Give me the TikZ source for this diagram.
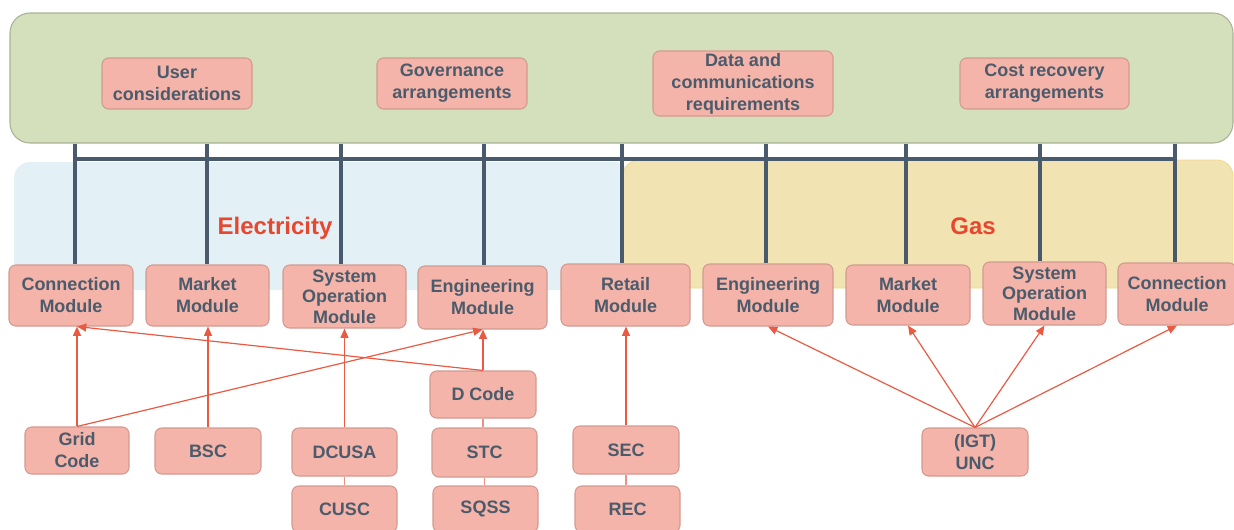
\documentclass[tikz,border=0pt]{standalone}
\usepackage{fontspec}
\setmainfont{Liberation Sans}
\usetikzlibrary{arrows.meta,fit}

\definecolor{panelfill}{HTML}{D4DFBB}
\definecolor{panelline}{HTML}{A9B295}
\definecolor{elecfill}{HTML}{E3F1F6}
\definecolor{gasfill}{HTML}{F2E3B2}
\definecolor{gasline}{HTML}{F0D88C}
\definecolor{boxfill}{HTML}{F5B4A9}
\definecolor{boxline}{HTML}{D39A90}
\definecolor{ink}{HTML}{4A5B6C}
\definecolor{busc}{HTML}{485A6C}
\definecolor{arrc}{HTML}{EA5A43}
\definecolor{linkc}{HTML}{F08E80}
\definecolor{heading}{HTML}{E8472F}

\begin{document}
\begin{tikzpicture}[x=0.75pt,y=-0.75pt,
  box/.style={draw=boxline, fill=boxfill, line width=0.8pt, rounded corners=5pt,
    inner sep=0pt, align=center, text=ink,
    font=\bfseries\fontsize{13.5}{16.5}\selectfont},
  wh/.style 2 args={minimum width={#1*0.75pt}, minimum height={#2*0.75pt}},
  tight/.style={font=\bfseries\fontsize{13.5}{15.5}\selectfont},
  bus/.style={draw=busc, line width=3pt},
  arr/.style={draw=arrc, line width=0.9pt, -{Triangle[length=7pt,width=6pt]}},
  link/.style={draw=linkc, line width=0.8pt},
  sector/.style={text=heading, font=\bfseries\fontsize{18}{20}\selectfont}]
\useasboundingbox (0,0) rectangle (1234,529);

% sector bands
\node[fit={(14,162) (630,290)}, inner sep=0pt, fill=elecfill, rounded corners=12pt] (elec) {};
\node[fit={(623,160) (1233,288)}, inner sep=0pt, fill=gasfill, draw=gasline, line width=0.6pt, rounded corners=12pt] (gas) {};

% top panel
\node[fit={(10,13) (1233,143)}, inner sep=0pt, fill=panelfill, draw=panelline, line width=0.8pt, rounded corners=15pt] (panel) {};

\node[box, wh={150}{51}] (user) at (177,83.5) {User\\considerations};
\node[box, wh={150}{51}] (gov) at (452,83.5) {Governance\\arrangements};
\node[box, wh={180}{65}] (data) at (743,83.5) {Data and\\communications\\requirements};
\node[box, wh={169}{51}] (cost) at (1044.5,83.5) {Cost recovery\\arrangements};

% sector headings
\node[sector] (eleclabel) at (275,228) {Electricity};
\node[sector] (gaslabel) at (973,226) {Gas};

% modules
\node[box, wh={124}{61}] (econn) at (71,295.5) {Connection\\Module};
\node[box, wh={123}{61}] (emkt) at (207.5,295.5) {Market\\Module};
\node[box, tight, wh={123}{63}] (esys) at (344.5,296.5) {System\\Operation\\Module};
\node[box, wh={129}{63}] (eeng) at (482.5,297.5) {Engineering\\Module};
\node[box, wh={129}{62}] (retail) at (625.5,295) {Retail\\Module};
\node[box, wh={130}{62}] (geng) at (768,295) {Engineering\\Module};
\node[box, wh={124}{60}] (gmkt) at (908,295) {Market\\Module};
\node[box, tight, wh={123}{63}] (gsys) at (1044.5,293.5) {System\\Operation\\Module};
\node[box, wh={118}{62}] (gconn) at (1177,294) {Connection\\Module};

% bus from the panel to every module
\coordinate (busL) at (75,159);
\coordinate (busR) at (1175,159);
\draw[bus] (busL) -- (busR);
\foreach \x/\m in {75/econn,207/emkt,341/esys,484/eeng,622/retail,766/geng,906/gmkt,1040/gsys,1175/gconn}
  \draw[bus] (panel.south -| \x,0) -- (\m.north -| \x,0);

% codes
\node[box, wh={104}{47}] (grid) at (77,450.5) {Grid\\Code};
\node[box, wh={106}{46}] (bsc) at (208,451) {BSC};
\node[box, wh={105}{48}] (dcusa) at (344.5,452) {DCUSA};
\node[box, wh={105}{46}] (cusc) at (344.5,509) {CUSC};
\node[box, wh={106}{47}] (dcode) at (483,394.5) {D Code};
\node[box, wh={105}{49}] (stc) at (484.5,452.5) {STC};
\node[box, wh={105}{46}] (sqss) at (485.5,509) {SQSS};
\node[box, wh={106}{48}] (sec) at (626,450) {SEC};
\node[box, wh={105}{46}] (rec) at (627.5,509) {REC};
\node[box, wh={106}{48}] (unc) at (975,452) {(IGT)\\UNC};

% stacked codes
\draw[link] (dcusa.south) -- (dcusa.south |- cusc.north);
\draw[link] (dcode.south) -- (dcode.south |- stc.north);
\draw[link] (stc.south) -- (stc.south |- sqss.north);
\draw[link] (sec.south) -- (sec.south |- rec.north);

% code to module relations
\draw[arr] (grid.north) -- (grid.north |- econn.south);
\draw[arr] (grid.north) -- (eeng.south);
\draw[arr] (dcode.north) -- (grid.north |- econn.south);
\draw[arr] (dcode.north) -- (dcode.north |- eeng.south);
\draw[arr] (bsc.north) -- (bsc.north |- emkt.south);
\draw[arr] (dcusa.north) -- (dcusa.north |- esys.south);
\draw[arr] (sec.north) -- (sec.north |- retail.south);
\draw[arr] (unc.north) -- (geng.south);
\draw[arr] (unc.north) -- (gmkt.south);
\draw[arr] (unc.north) -- (gsys.south);
\draw[arr] (unc.north) -- (gconn.south);
\end{tikzpicture}
\end{document}
